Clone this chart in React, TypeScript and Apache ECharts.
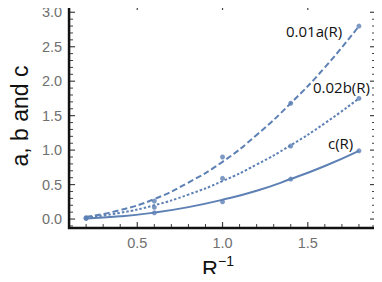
import React, { useEffect, useRef } from "react";
import * as echarts from "echarts";

// sample x positions
const xPoints = [0.2, 0.6, 1.0, 1.4, 1.8];
const aPoints = [0.02, 0.26, 0.9, 1.68, 2.8];
const bPoints = [0.01, 0.17, 0.59, 1.06, 1.75];
const cPoints = [0.01, 0.09, 0.25, 0.58, 0.99];

// fitted curves
const xCurve = [0.2, 0.4, 0.6, 0.8, 1.0, 1.2, 1.4, 1.6, 1.8];
const aCurve = [0.03, 0.13, 0.29, 0.53, 0.83, 1.22, 1.68, 2.2, 2.8];
const bCurve = [0.023, 0.09, 0.2, 0.355, 0.55, 0.79, 1.07, 1.39, 1.75];
const cCurve = [0.009, 0.039, 0.093, 0.173, 0.28, 0.41, 0.58, 0.77, 0.99];

const xMajor = [0.5, 1.0, 1.5];
const xMinor = [0.2, 0.3, 0.4, 0.6, 0.7, 0.8, 0.9, 1.1, 1.2, 1.3, 1.4, 1.6, 1.7, 1.8];
const yMajor = [0, 0.5, 1.0, 1.5, 2.0, 2.5, 3.0];
const yMinor = [
  -0.1, 0.1, 0.2, 0.3, 0.4, 0.6, 0.7, 0.8, 0.9, 1.1, 1.2, 1.3, 1.4, 1.6, 1.7, 1.8, 1.9,
  2.1, 2.2, 2.3, 2.4, 2.6, 2.7, 2.8, 2.9, 3.1,
];

const COLOR = "#5E81B5";
const INK = "#111";
const X_MIN = 0.1;
const X_MAX = 1.9;
const Y_MIN = -0.13;
const Y_MAX = 3.12;

const zip = (xs: number[], ys: number[]) => xs.map((x, i) => [x, ys[i]]);

const labelStyle = {
  color: "#707070",
  fontSize: 14.5,
  fontFamily: "Liberation Sans",
  margin: 7,
  formatter: (v: number) => v.toFixed(1),
};

// frame ticks as tiny rect markers placed by the axes' scales
function tickSeries(data: number[][], size: number[], offset: number[]) {
  return {
    type: "scatter",
    data,
    symbol: "rect",
    symbolSize: size,
    symbolOffset: offset,
    clip: false,
    itemStyle: { color: INK, borderWidth: 0 },
    emphasis: { disabled: true },
    z: 10,
  };
}

export default function App() {
  const ref = useRef<HTMLDivElement>(null);
  useEffect(() => {
    if (!ref.current) return;
    const chart = echarts.init(ref.current, undefined, { renderer: "svg" });
    const line = (name: string, data: number[], type: any) => ({
      name,
      type: "line",
      data: zip(xCurve, data),
      smooth: true,
      showSymbol: false,
      lineStyle: { color: COLOR, width: 2, type },
      z: 3,
    });
    const pts = (name: string, data: number[]) => ({
      name,
      type: "scatter",
      data: zip(xPoints, data),
      symbol: "circle",
      symbolSize: 5,
      itemStyle: { color: COLOR },
      z: 4,
    });
    const frame = {
      name: "frame",
      type: "line",
      data: [
        [X_MIN, Y_MIN],
        [X_MAX, Y_MIN],
        [X_MAX, Y_MAX],
        [X_MIN, Y_MAX],
        [X_MIN, Y_MIN],
      ],
      showSymbol: false,
      clip: false,
      lineStyle: { color: INK, width: 2.5, cap: "square", join: "miter" },
      emphasis: { disabled: true },
      z: 11,
    };
    chart.setOption({
      animation: false,
      grid: { left: 58, right: 6, top: 4, bottom: 54 },
      xAxis: {
        type: "value",
        min: X_MIN,
        max: X_MAX,
        axisLine: { show: false },
        axisTick: { show: false },
        splitLine: { show: false },
        axisLabel: { ...labelStyle, customValues: xMajor },
      },
      yAxis: {
        type: "value",
        min: Y_MIN,
        max: Y_MAX,
        axisLine: { show: false },
        axisTick: { show: false },
        splitLine: { show: false },
        axisLabel: { ...labelStyle, customValues: yMajor },
        name: "a, b and c",
        nameLocation: "middle",
        nameGap: 35,
        nameRotate: 90,
        nameTextStyle: { fontSize: 23, color: INK, fontFamily: "Liberation Sans" },
      },
      graphic: [
        {
          type: "text",
          left: 202,
          top: 257,
          style: { text: "R", fontSize: 22, fill: INK, fontFamily: "Liberation Sans" },
        },
        {
          type: "text",
          left: 218,
          top: 254,
          style: { text: "\u22121", fontSize: 14, fill: INK, fontFamily: "Liberation Sans" },
        },
        {
          type: "text",
          left: 286,
          top: 23,
          style: { text: "0.01a(R)", fontSize: 15, fill: INK, fontFamily: "Open Sans" },
        },
        {
          type: "text",
          left: 313,
          top: 79,
          style: { text: "0.02b(R)", fontSize: 15, fill: INK, fontFamily: "Open Sans" },
        },
        {
          type: "text",
          left: 328,
          top: 135,
          style: { text: "c(R)", fontSize: 15, fill: INK, fontFamily: "Open Sans" },
        },
      ],
      series: [
        line("0.01a(R) fit", aCurve, [6, 3]),
        line("0.02b(R) fit", bCurve, [2.5, 2]),
        line("c(R) fit", cCurve, "solid"),
        pts("0.01a(R)", aPoints),
        pts("0.02b(R)", bPoints),
        pts("c(R)", cPoints),
        frame,
        tickSeries(xMajor.map((v) => [v, Y_MIN]), [1.2, 6], [0, -3]),
        tickSeries(xMajor.map((v) => [v, Y_MAX]), [1.2, 6], [0, 3]),
        tickSeries(xMinor.map((v) => [v, Y_MIN]), [1, 4], [0, -2]),
        tickSeries(xMinor.map((v) => [v, Y_MAX]), [1, 4], [0, 2]),
        tickSeries(yMajor.map((v) => [X_MIN, v]), [6, 1.2], [3, 0]),
        tickSeries(yMajor.map((v) => [X_MAX, v]), [6, 1.2], [-3, 0]),
        tickSeries(yMinor.map((v) => [X_MIN, v]), [4, 1], [2, 0]),
        tickSeries(yMinor.map((v) => [X_MAX, v]), [4, 1], [-2, 0]),
      ],
    });
    return () => chart.dispose();
  }, []);
  return <div ref={ref} style={{ width: 382, height: 282, margin: -8 }} />;
}
